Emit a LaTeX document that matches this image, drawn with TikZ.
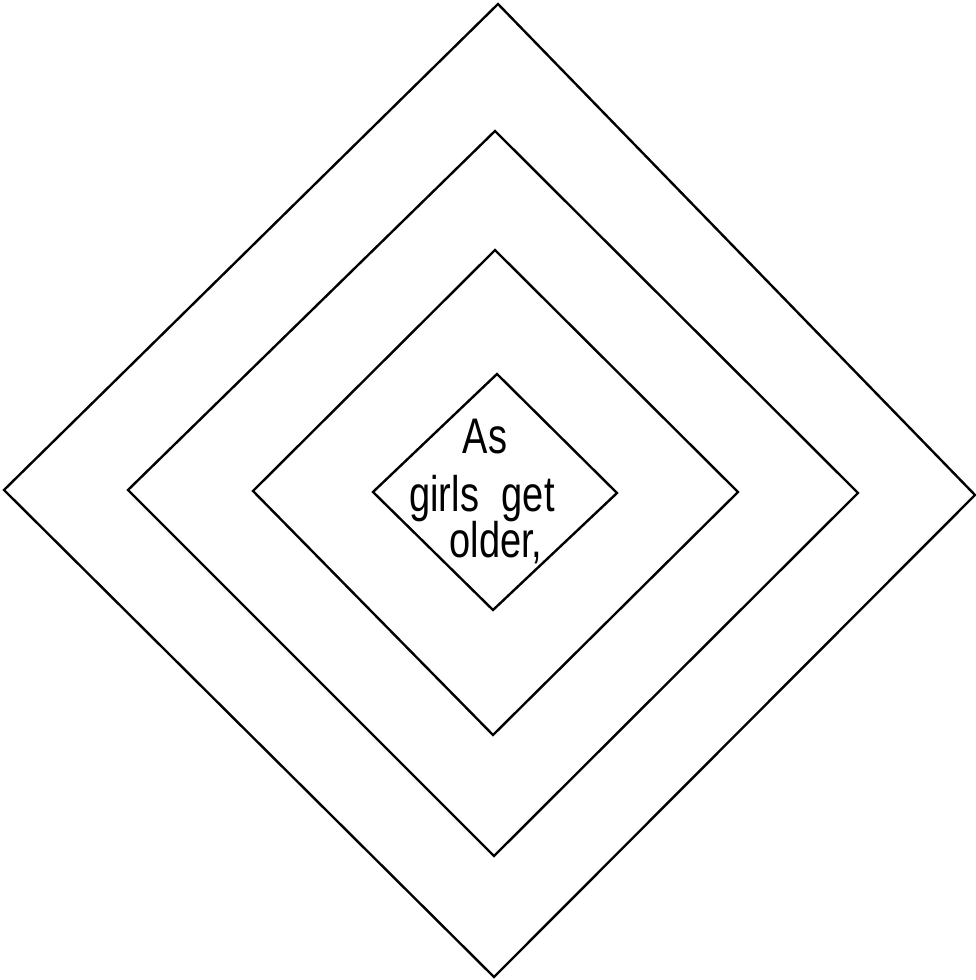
\documentclass[tikz,border=0pt]{standalone}
\usepackage{fontspec}
\setmainfont{Liberation Sans}
\begin{document}
\begin{tikzpicture}[x=1pt,y=-1pt,
  ring/.style={draw=black,line width=2.4pt,line join=miter},
  words/.style={font=\fontsize{50}{56}\selectfont,anchor=base,inner sep=0pt,xscale=0.76}]
\useasboundingbox (0,0) rectangle (976,980);
\draw[ring] (498,4) -- (975,495) -- (494,977) -- (4,490) -- cycle;
\draw[ring] (495,131) -- (858,493) -- (494,856) -- (128,490) -- cycle;
\draw[ring] (495,250) -- (738,492) -- (493,735) -- (253,491) -- cycle;
\draw[ring] (497,374) -- (617,493) -- (493,610) -- (373,492) -- cycle;
\node[words] (l1) at (485,453) {As};
\node[words] (l2) at (482,511) {girls\hspace{0.6em}get};
\node[words] (l3) at (496,557) {older,};
\end{tikzpicture}
\end{document}
